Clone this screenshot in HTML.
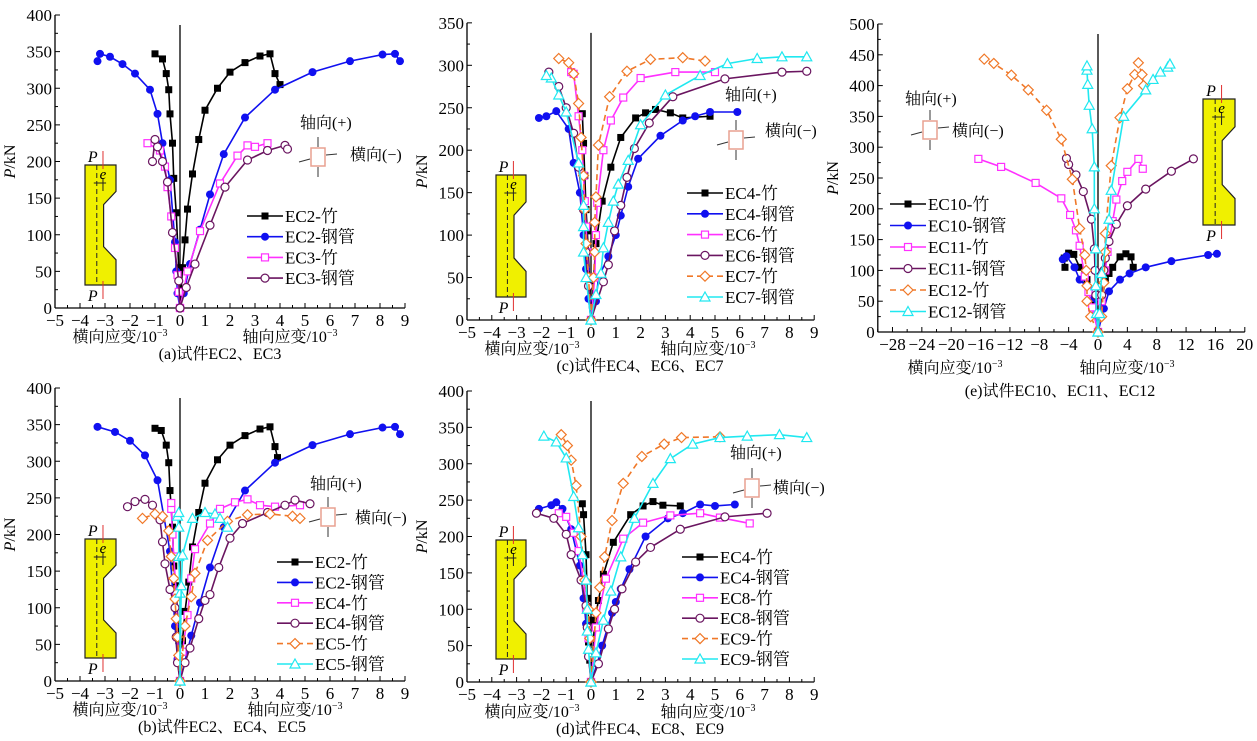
<!DOCTYPE html>
<html><head><meta charset="utf-8">
<style>
html,body{margin:0;padding:0;background:#fff;}
svg{display:block;font-family:"Liberation Serif","Noto Serif CJK SC",serif;}
</style></head>
<body>
<svg id="fig" width="1257" height="741" viewBox="0 0 1257 741" xmlns="http://www.w3.org/2000/svg"></svg>
<script>
// ===== Data: [strain (10^-3), load P (kN)] =====
// Panel (a)
const a_EC2_zhu_lat=[[0,0],[-0.05,55],[-0.15,130],[-0.25,177],[-0.3,225],[-0.4,265],[-0.45,298],[-0.55,320],[-0.7,340],[-1.0,347]];
const a_EC2_zhu_ax=[[0,0],[0.1,55],[0.2,93],[0.3,135],[0.5,183],[0.75,230],[1.0,270],[1.5,300],[2.0,322],[2.6,335],[3.2,344],[3.6,347],[3.8,320],[4.0,305]];
const a_EC2_gg_lat=[[0,0],[-0.1,20],[-0.15,50],[-0.2,90],[-0.4,175],[-0.7,225],[-0.9,265],[-1.2,298],[-1.8,320],[-2.3,333],[-2.8,343],[-3.2,347],[-3.3,337]];
const a_EC2_gg_ax=[[0,0],[0.15,20],[0.4,60],[0.8,107],[1.2,155],[1.75,210],[2.6,260],[3.8,298],[5.3,322],[6.8,337],[8.1,346],[8.6,347],[8.8,337]];
const a_EC3_zhu_lat=[[0,0],[-0.05,22],[-0.1,45],[-0.2,82],[-0.35,125],[-0.5,165],[-0.6,193],[-0.8,215],[-1.3,225]];
const a_EC3_zhu_ax=[[0,0],[0.3,50],[0.8,105],[1.6,170],[2.3,208],[2.7,222],[3.0,220],[3.5,225]];
const a_EC3_gg_lat=[[0,0],[-0.05,37],[-0.3,103],[-0.5,172],[-0.7,200],[-0.9,220],[-1.0,230],[-1.1,200]];
const a_EC3_gg_ax=[[0,0],[0.25,28],[0.6,60],[1.2,113],[1.8,165],[2.7,202],[3.5,215],[4.2,222],[4.3,217]];
// Panel (b)
const b_EC2_zhu_lat=[[0,0],[-0.05,55],[-0.15,130],[-0.25,157],[-0.3,210],[-0.4,260],[-0.45,298],[-0.55,322],[-0.75,342],[-1.0,345]];
const b_EC2_zhu_ax=[[0,0],[0.1,55],[0.2,95],[0.35,135],[0.5,183],[0.75,230],[1.0,270],[1.5,302],[2.0,322],[2.6,335],[3.2,344],[3.6,347],[3.8,320],[3.9,305]];
const b_EC2_gg_lat=[[0,0],[-0.1,30],[-0.2,75],[-0.4,177],[-0.9,274],[-1.4,308],[-2.0,328],[-2.6,340],[-3.3,347]];
const b_EC2_gg_ax=[[0,0],[0.45,62],[0.8,107],[1.2,155],[1.75,210],[2.6,260],[3.8,298],[5.3,322],[6.8,337],[8.1,346],[8.6,347],[8.8,337]];
const b_EC4_zhu_lat=[[0,0],[-0.05,30],[-0.1,60],[-0.15,120],[-0.25,170],[-0.3,200],[-0.35,235],[-0.35,243]];
const b_EC4_zhu_ax=[[0,0],[0.1,40],[0.3,90],[0.45,140],[0.6,180],[1.2,215],[1.6,235],[2.2,244],[2.7,248],[3.2,240],[3.8,238],[4.8,240]];
const b_EC4_gg_lat=[[0,0],[-0.1,25],[-0.15,60],[-0.2,100],[-0.4,125],[-0.6,160],[-0.7,190],[-0.8,220],[-1.1,240],[-1.4,248],[-1.8,245],[-2.1,238]];
const b_EC4_gg_ax=[[0,0],[0.2,25],[0.4,45],[0.75,85],[1.0,110],[1.2,118],[1.55,155],[2.0,195],[2.5,215],[3.5,230],[4.2,240],[4.6,247],[5.2,242]];
const b_EC5_zhu_lat=[[0,0],[-0.05,35],[-0.1,60],[-0.15,85],[-0.2,112],[-0.25,140],[-0.35,170],[-0.45,205],[-0.7,225],[-1.0,228],[-1.5,222]];
const b_EC5_zhu_ax=[[0,0],[0.2,75],[0.45,115],[0.6,147],[1.1,192],[1.9,218],[2.7,227],[3.6,228],[4.5,225],[4.8,222]];
const b_EC5_gg_lat=[[0,0],[0,120],[-0.05,170],[-0.05,210],[-0.1,225],[-0.05,230]];
const b_EC5_gg_ax=[[0,0],[0.05,130],[0.1,172],[0.5,222],[1.0,230],[1.4,228],[1.6,222],[1.9,210]];
// Panel (c)
const c_EC4_zhu_lat=[[0,0],[-0.05,40],[-0.15,105],[-0.2,130],[-0.25,170],[-0.3,208],[-0.35,243]];
const c_EC4_zhu_ax=[[0,0],[0.2,90],[0.45,140],[0.8,180],[1.2,215],[1.8,238],[2.2,244],[2.6,248],[3.2,244],[3.7,238],[4.8,240]];
const c_EC4_gg_lat=[[0,0],[-0.1,25],[-0.2,60],[-0.3,100],[-0.45,150],[-0.7,185],[-0.9,225],[-1.4,246],[-1.8,240],[-2.1,238]];
const c_EC4_gg_ax=[[0,0],[0.2,22],[0.3,50],[0.7,75],[1.0,100],[1.2,123],[1.5,157],[1.9,190],[2.8,217],[3.7,235],[4.2,240],[4.8,245],[5.9,245]];
const c_EC6_zhu_lat=[[0,0],[-0.1,50],[-0.15,80],[-0.2,110],[-0.25,140],[-0.3,170],[-0.35,200],[-0.5,240],[-0.7,290],[-0.8,292]];
const c_EC6_zhu_ax=[[0,0],[0.15,50],[0.2,100],[0.25,138],[0.5,200],[0.8,235],[1.3,262],[2.0,285],[3.4,292],[5.0,292]];
const c_EC6_gg_lat=[[0,0],[-0.1,40],[-0.2,80],[-0.3,130],[-0.5,180],[-0.7,220],[-1.0,250],[-1.3,275],[-1.7,292]];
const c_EC6_gg_ax=[[0,0],[0.5,45],[0.7,65],[0.95,105],[1.2,135],[1.45,168],[1.75,202],[2.35,232],[3.3,263],[5.4,284],[7.7,292],[8.7,293]];
const c_EC7_zhu_lat=[[0,0],[-0.1,50],[-0.2,90],[-0.25,130],[-0.3,170],[-0.4,215],[-0.5,255],[-0.7,290],[-0.9,303],[-1.3,308]];
const c_EC7_zhu_ax=[[0,0],[0.1,50],[0.15,80],[0.15,115],[0.2,145],[0.3,206],[0.75,263],[1.45,293],[2.4,307],[3.7,309],[4.6,305]];
const c_EC7_gg_lat=[[0,0],[-0.2,50],[-0.3,80],[-0.3,110],[-0.3,135],[-0.5,185],[-1.0,245],[-1.3,265],[-1.6,285],[-1.8,288]];
const c_EC7_gg_ax=[[0,0],[0.2,30],[0.4,55],[0.5,85],[0.7,115],[0.9,140],[1.1,160],[1.5,188],[2.0,230],[3.0,265],[4.4,288],[5.5,302],[6.7,308],[7.7,310],[8.7,310]];
// Panel (d)
const d_EC4_zhu_lat=[[0,0],[-0.05,30],[-0.1,55],[-0.1,85],[-0.15,115],[-0.2,175],[-0.3,230],[-0.35,245]];
const d_EC4_zhu_ax=[[0,0],[0.15,85],[0.3,112],[0.5,148],[0.9,192],[1.6,230],[2.1,242],[2.5,248],[2.9,243],[3.6,242]];
const d_EC4_gg_lat=[[0,0],[-0.1,40],[-0.2,80],[-0.3,115],[-0.45,160],[-0.8,210],[-1.15,238],[-1.4,247],[-1.6,243],[-2.1,238]];
const d_EC4_gg_ax=[[0,0],[0.25,25],[0.45,50],[0.85,95],[1.0,110],[1.2,128],[1.55,155],[2.2,200],[3.1,225],[3.7,232],[4.4,244],[5.0,242],[5.8,244]];
const d_EC8_zhu_lat=[[0,0],[-0.1,60],[-0.2,100],[-0.3,140],[-0.5,180],[-0.7,205],[-1.0,227],[-1.3,232]];
const d_EC8_zhu_ax=[[0,0],[0.2,75],[0.6,142],[1.3,197],[2.1,219],[3.2,229],[4.4,232],[5.2,226],[6.4,218]];
const d_EC8_gg_lat=[[0,0],[-0.1,35],[-0.15,75],[-0.2,105],[-0.4,140],[-0.8,175],[-1.0,203],[-1.5,225],[-2.2,232]];
const d_EC8_gg_ax=[[0,0],[0.3,25],[0.7,73],[0.95,100],[1.25,128],[1.8,165],[2.4,185],[3.6,210],[5.4,227],[7.1,232]];
const d_EC9_zhu_lat=[[0,0],[-0.05,60],[-0.1,100],[-0.25,140],[-0.4,200],[-0.6,270],[-0.8,305],[-0.95,325],[-1.2,340]];
const d_EC9_zhu_ax=[[0,0],[0.2,95],[0.35,130],[0.55,172],[0.85,222],[1.3,273],[2.05,310],[2.95,327],[3.65,336],[5.2,337]];
const d_EC9_gg_lat=[[0,0],[-0.1,45],[-0.15,70],[-0.15,100],[-0.2,140],[-0.35,175],[-0.5,212],[-0.7,255],[-1.0,308],[-1.4,330],[-1.9,338]];
const d_EC9_gg_ax=[[0,0],[0.2,40],[0.5,85],[0.8,125],[1.2,172],[1.75,225],[2.5,273],[3.2,307],[4.1,327],[5.2,336],[6.3,338],[7.6,340],[8.7,336]];
// Panel (e)
const e_EC10_zhu_lat=[[0,0],[-0.5,50],[-1.5,85],[-2.5,105],[-3.3,126],[-4,128],[-4.6,120],[-4.5,105]];
const e_EC10_zhu_ax=[[0,0],[0.5,50],[1,85],[1.5,95],[2,105],[3,122],[3.8,127],[4.5,122],[4.8,105]];
const e_EC10_gg_lat=[[0,0],[-0.3,30],[-0.5,55],[-1.2,70],[-2.5,85],[-3.2,105],[-4.3,123],[-4.8,118]];
const e_EC10_gg_ax=[[0,0],[0.8,38],[1.5,66],[3,85],[4.3,95],[6.5,105],[10,115],[15,125],[16.2,127]];
const e_EC11_zhu_lat=[[0,0],[-0.8,40],[-1.3,65],[-1.8,90],[-2.5,140],[-3,165],[-3.8,190],[-5,217],[-8.5,242],[-13.2,268],[-16.3,281]];
const e_EC11_zhu_ax=[[0,0],[0.5,50],[1,100],[1.3,130],[2.0,180],[2.5,215],[3.3,245],[4,260],[5.5,281],[6.1,265]];
const e_EC11_gg_lat=[[0,0],[-0.3,60],[-0.4,100],[-0.5,135],[-0.9,183],[-2,228],[-3,255],[-4,272],[-4.3,282]];
const e_EC11_gg_ax=[[0,0],[0.5,60],[0.8,100],[1,120],[1.5,147],[2.5,175],[4,205],[6.5,232],[10,261],[13,281]];
const e_EC12_zhu_lat=[[0,0],[-1,25],[-1.5,50],[-1.5,75],[-1.6,100],[-1.8,125],[-2.5,168],[-3.5,248],[-5,313],[-7,360],[-9.5,393],[-11.8,417],[-14.2,436],[-15.5,443]];
const e_EC12_zhu_ax=[[0,0],[0.5,25],[0.8,80],[1,130],[1,160],[1.8,270],[3,348],[4,395],[5,418],[5.5,437],[6,418],[6.2,400]];
const e_EC12_gg_lat=[[0,0],[-0.2,30],[-0.3,75],[-0.3,135],[-0.5,200],[-0.5,268],[-0.8,330],[-1.2,368],[-1.4,402],[-1.5,425],[-1.5,432]];
const e_EC12_gg_ax=[[0,0],[0.2,30],[0.5,95],[1.5,183],[1.8,230],[3.5,350],[6.5,393],[7.5,410],[8.5,422],[9.5,430],[9.8,435]];

const xTicksA=[-5,-4,-3,-2,-1,0,1,2,3,4,5,6,7,8,9];
const xTicksE=[-28,-24,-20,-16,-12,-8,-4,0,4,8,12,16,20];
const yTicks400=[0,50,100,150,200,250,300,350,400];
const yTicks350=[0,50,100,150,200,250,300,350];
const yTicks500=[0,50,100,150,200,250,300,350,400,450,500];

const C={blk:'#000',blu:'#1010f0',mag:'#ff30ff',pur:'#6a1560',ora:'#f07828',cya:'#20e8f0'};
const NS='http://www.w3.org/2000/svg';
const svg=document.getElementById('fig');
function mk(tag,attrs,parent){const e=document.createElementNS(NS,tag);for(const k in attrs)e.setAttribute(k,attrs[k]);(parent||svg).appendChild(e);return e;}
function txt(s,x,y,size,anchor,parent){const t=mk('text',{x:x,y:y,'font-size':size,'text-anchor':anchor||'start',fill:'#000'},parent);t.textContent=s;return t;}

function marker(g,type,x,y,color){
  let m;
  if(type==='sq') m=mk('rect',{x:x-3.5,y:y-3.5,width:7,height:7,fill:color},g);
  else if(type==='dot') m=mk('circle',{cx:x,cy:y,r:4,fill:color},g);
  else if(type==='osq') m=mk('rect',{x:x-3.5,y:y-3.5,width:7,height:7,fill:'#fff',stroke:color,'stroke-width':1.2},g);
  else if(type==='ocir') m=mk('circle',{cx:x,cy:y,r:4,fill:'#fff',stroke:color,'stroke-width':1.2},g);
  else if(type==='dia') m=mk('polygon',{points:`${x},${y-5} ${x+5},${y} ${x},${y+5} ${x-5},${y}`,fill:'#fff',stroke:color,'stroke-width':1.2},g);
  else m=mk('polygon',{points:`${x},${y-5} ${x+5},${y+4} ${x-5},${y+4}`,fill:'#fff',stroke:color,'stroke-width':1.2},g);
  
  
}

function specimen(g,L,T,W,H){
  const R=L+W,mx=L+W*0.6;
  const p=mk('polygon',{points:`${L},${T} ${R},${T} ${R},${T+H*0.22} ${mx},${T+H*0.33} ${mx},${T+H*0.68} ${R},${T+H*0.79} ${R},${T+H} ${L},${T+H}`,fill:'#f0f000',stroke:'#222','stroke-width':1.2},g);
  
  const dx=L+W*0.38;
  mk('line',{x1:dx,y1:T,x2:dx,y2:T+H,stroke:'#222','stroke-dasharray':'5,3','stroke-width':1},g);
  mk('line',{x1:L+W*0.58,y1:T-14,x2:L+W*0.58,y2:T+4,stroke:'#e03030','stroke-width':1},g);
  mk('line',{x1:L+W*0.58,y1:T+H-4,x2:L+W*0.58,y2:T+H+14,stroke:'#e03030','stroke-width':1},g);
  mk('line',{x1:dx-3,y1:T+18,x2:L+W*0.68,y2:T+18,stroke:'#222','stroke-width':1},g);
  mk('line',{x1:L+W*0.58,y1:T+13,x2:L+W*0.58,y2:T+26,stroke:'#222','stroke-width':1},g);
  const t1=txt('P',L+W*0.25,T-3,16,'middle',g);t1.setAttribute('font-style','italic');
  const t2=txt('e',L+W*0.58,T+14,15,'middle',g);t2.setAttribute('font-style','italic');
  const t3=txt('P',L+W*0.25,T+H+16,16,'middle',g);t3.setAttribute('font-style','italic');
}
function strainIcon(g,bx,by,ax,ay,lx,ly){
  txt('轴向(+)',ax,ay,16,'start',g);
  txt('横向(−)',lx,ly,16,'start',g);
  mk('rect',{x:bx-7,y:by-9,width:14,height:18,fill:'#fff',stroke:'#e8a090','stroke-width':1.5},g);
  mk('line',{x1:bx,y1:by-20,x2:bx,y2:by-10,stroke:'#333','stroke-width':1},g);
  mk('line',{x1:bx,y1:by+10,x2:bx,y2:by+20,stroke:'#333','stroke-width':1},g);
  mk('line',{x1:bx+8,y1:by-2,x2:bx+19,y2:by-3,stroke:'#333','stroke-width':1},g);
  mk('line',{x1:bx-8,y1:by+2,x2:bx-19,y2:by+5,stroke:'#333','stroke-width':1},g);
}

function panel(cfg){
  const g=mk('g',{});
  
  
  const X=v=>cfg.x0+v*cfg.sx, Y=v=>cfg.y0-v*cfg.sy;
  const left=X(cfg.xmin), right=X(cfg.xmax), top=Y(cfg.ymax);
  const ya=mk('line',{x1:left,y1:top,x2:left,y2:cfg.y0,stroke:'#000','stroke-width':1.3},g);
  
  const xa=mk('line',{x1:left,y1:cfg.y0,x2:right,y2:cfg.y0,stroke:'#000','stroke-width':1.3},g);
  
  mk('line',{x1:X(0),y1:top+10,x2:X(0),y2:cfg.y0,stroke:'#000','stroke-width':1.3},g);
  const ystep=cfg.yt[1]-cfg.yt[0];
  cfg.yt.forEach(v=>{
    mk('line',{x1:left,y1:Y(v),x2:left+5,y2:Y(v),stroke:'#000'},g);
    if(v<cfg.ymax) mk('line',{x1:left,y1:Y(v+ystep/2),x2:left+3,y2:Y(v+ystep/2),stroke:'#000'},g);
    const t=txt(String(v),left-3,Y(v)+6,17,'end',g);
    
  });
  const xstep=cfg.xt[1]-cfg.xt[0];
  cfg.xt.forEach(v=>{
    mk('line',{x1:X(v),y1:cfg.y0,x2:X(v),y2:cfg.y0-5,stroke:'#000'},g);
    if(v-xstep/2>=cfg.xmin) mk('line',{x1:X(v-xstep/2),y1:cfg.y0,x2:X(v-xstep/2),y2:cfg.y0-3,stroke:'#000'},g);
    const t=txt(v<0?'−'+(-v):String(v),X(v),cfg.y0+18,17,'middle',g);
    
  });
  const yl=txt('',0,0,16,'middle',g);
  yl.innerHTML='<tspan font-style="italic">P</tspan>/kN';
  yl.setAttribute('transform',`translate(${left-40},${(top+cfg.y0)/2}) rotate(-90)`);
  
  const xl1=txt('',cfg.latT[0],cfg.latT[1],16,'middle',g);
  xl1.innerHTML='横向应变/10<tspan font-size="10" dy="-6">−3</tspan>';
  
  const xl2=txt('',cfg.axT[0],cfg.axT[1],16,'middle',g);
  xl2.innerHTML='轴向应变/10<tspan font-size="10" dy="-6">−3</tspan>';
  
  const cap=txt(cfg.caption,cfg.capPos[0],cfg.capPos[1],16,'middle',g);
  
  specimen(g,cfg.spec[0],cfg.spec[1],cfg.spec[2],cfg.spec[3]);
  strainIcon(g,...cfg.icon);
  cfg.series.forEach((s,i)=>{
    const sg=mk('g',{},g);
    
    
    [s.lat,s.ax].forEach(arr=>{
      const pts=arr.map(p=>X(p[0])+','+Y(p[1])).join(' ');
      const pl=mk('polyline',{points:pts,fill:'none',stroke:s.c,'stroke-width':1.6,'stroke-dasharray':s.dash?'6,4':'none'},sg);
      
      arr.forEach(p=>marker(sg,s.m,X(p[0]),Y(p[1]),s.c));
    });
    const ly=cfg.leg[1]+i*cfg.leg[2], lx=cfg.leg[0];
    const lg=mk('g',{},g);
    
    
    mk('line',{x1:lx,y1:ly,x2:lx+36,y2:ly,stroke:s.c,'stroke-width':1.6,'stroke-dasharray':s.dash?'6,4':'none'},lg);
    marker(lg,s.m,lx+18,ly,s.c);
    txt(s.label,lx+38,ly+6,17,'start',lg);
  });
}
const sty=(l,c,m,d)=>({label:l,c:c,m:m,dash:!!d});
panel({name:'panel-a',x0:180,sx:25,y0:308,sy:0.7325,xmin:-5,xmax:9,ymax:400,yt:yTicks400,xt:xTicksA,
  latT:[120,342],axT:[290,342],caption:'(a)试件EC2、EC3',capPos:[220,359],spec:[85,165,31,120],icon:[318,157,300,128,350,160],
  leg:[247,216,20.7],series:[
  Object.assign(sty('EC2-竹',C.blk,'sq'),{lat:a_EC2_zhu_lat,ax:a_EC2_zhu_ax}),
  Object.assign(sty('EC2-钢管',C.blu,'dot'),{lat:a_EC2_gg_lat,ax:a_EC2_gg_ax}),
  Object.assign(sty('EC3-竹',C.mag,'osq'),{lat:a_EC3_zhu_lat,ax:a_EC3_zhu_ax}),
  Object.assign(sty('EC3-钢管',C.pur,'ocir'),{lat:a_EC3_gg_lat,ax:a_EC3_gg_ax})]});
panel({name:'panel-b',x0:180,sx:25,y0:681,sy:0.7325,xmin:-5,xmax:9,ymax:400,yt:yTicks400,xt:xTicksA,
  latT:[120,715],axT:[295,715],caption:'(b)试件EC2、EC4、EC5',capPos:[222,732],spec:[85,539,31,119],icon:[328,517,310,489,355,523],
  leg:[277,562,20.4],series:[
  Object.assign(sty('EC2-竹',C.blk,'sq'),{lat:b_EC2_zhu_lat,ax:b_EC2_zhu_ax}),
  Object.assign(sty('EC2-钢管',C.blu,'dot'),{lat:b_EC2_gg_lat,ax:b_EC2_gg_ax}),
  Object.assign(sty('EC4-竹',C.mag,'osq'),{lat:b_EC4_zhu_lat,ax:b_EC4_zhu_ax}),
  Object.assign(sty('EC4-钢管',C.pur,'ocir'),{lat:b_EC4_gg_lat,ax:b_EC4_gg_ax}),
  Object.assign(sty('EC5-竹',C.ora,'dia',1),{lat:b_EC5_zhu_lat,ax:b_EC5_zhu_ax}),
  Object.assign(sty('EC5-钢管',C.cya,'tri'),{lat:b_EC5_gg_lat,ax:b_EC5_gg_ax})]});
panel({name:'panel-c',x0:591,sx:24.8,y0:320,sy:0.849,xmin:-5,xmax:9,ymax:350,yt:yTicks350,xt:xTicksA,
  latT:[532,354],axT:[708,354],caption:'(c)试件EC4、EC6、EC7',capPos:[640,371],spec:[496,175,30,122],icon:[736,140,725,100,765,136],
  leg:[687,193,20.8],series:[
  Object.assign(sty('EC4-竹',C.blk,'sq'),{lat:c_EC4_zhu_lat,ax:c_EC4_zhu_ax}),
  Object.assign(sty('EC4-钢管',C.blu,'dot'),{lat:c_EC4_gg_lat,ax:c_EC4_gg_ax}),
  Object.assign(sty('EC6-竹',C.mag,'osq'),{lat:c_EC6_zhu_lat,ax:c_EC6_zhu_ax}),
  Object.assign(sty('EC6-钢管',C.pur,'ocir'),{lat:c_EC6_gg_lat,ax:c_EC6_gg_ax}),
  Object.assign(sty('EC7-竹',C.ora,'dia',1),{lat:c_EC7_zhu_lat,ax:c_EC7_zhu_ax}),
  Object.assign(sty('EC7-钢管',C.cya,'tri'),{lat:c_EC7_gg_lat,ax:c_EC7_gg_ax})]});
panel({name:'panel-d',x0:591,sx:24.8,y0:682,sy:0.7275,xmin:-5,xmax:9,ymax:400,yt:yTicks400,xt:xTicksA,
  latT:[532,717],axT:[708,717],caption:'(d)试件EC4、EC8、EC9',capPos:[640,734],spec:[496,540,30,119],icon:[752,488,730,458,773,493],
  leg:[682,557,20.4],series:[
  Object.assign(sty('EC4-竹',C.blk,'sq'),{lat:d_EC4_zhu_lat,ax:d_EC4_zhu_ax}),
  Object.assign(sty('EC4-钢管',C.blu,'dot'),{lat:d_EC4_gg_lat,ax:d_EC4_gg_ax}),
  Object.assign(sty('EC8-竹',C.mag,'osq'),{lat:d_EC8_zhu_lat,ax:d_EC8_zhu_ax}),
  Object.assign(sty('EC8-钢管',C.pur,'ocir'),{lat:d_EC8_gg_lat,ax:d_EC8_gg_ax}),
  Object.assign(sty('EC9-竹',C.ora,'dia',1),{lat:d_EC9_zhu_lat,ax:d_EC9_zhu_ax}),
  Object.assign(sty('EC9-钢管',C.cya,'tri'),{lat:d_EC9_gg_lat,ax:d_EC9_gg_ax})]});
panel({name:'panel-e',x0:1098,sx:7.34,y0:332,sy:0.616,xmin:-30,xmax:20,ymax:500,yt:yTicks500,xt:xTicksE,
  latT:[955,373],axT:[1127,373],caption:'(e)试件EC10、EC11、EC12',capPos:[1060,396],spec:[1203,99,32,126],icon:[930,130,905,104,952,136],
  leg:[890,204,21.5],series:[
  Object.assign(sty('EC10-竹',C.blk,'sq'),{lat:e_EC10_zhu_lat,ax:e_EC10_zhu_ax}),
  Object.assign(sty('EC10-钢管',C.blu,'dot'),{lat:e_EC10_gg_lat,ax:e_EC10_gg_ax}),
  Object.assign(sty('EC11-竹',C.mag,'osq'),{lat:e_EC11_zhu_lat,ax:e_EC11_zhu_ax}),
  Object.assign(sty('EC11-钢管',C.pur,'ocir'),{lat:e_EC11_gg_lat,ax:e_EC11_gg_ax}),
  Object.assign(sty('EC12-竹',C.ora,'dia',1),{lat:e_EC12_zhu_lat,ax:e_EC12_zhu_ax}),
  Object.assign(sty('EC12-钢管',C.cya,'tri'),{lat:e_EC12_gg_lat,ax:e_EC12_gg_ax})]});
</script>
</body></html>
